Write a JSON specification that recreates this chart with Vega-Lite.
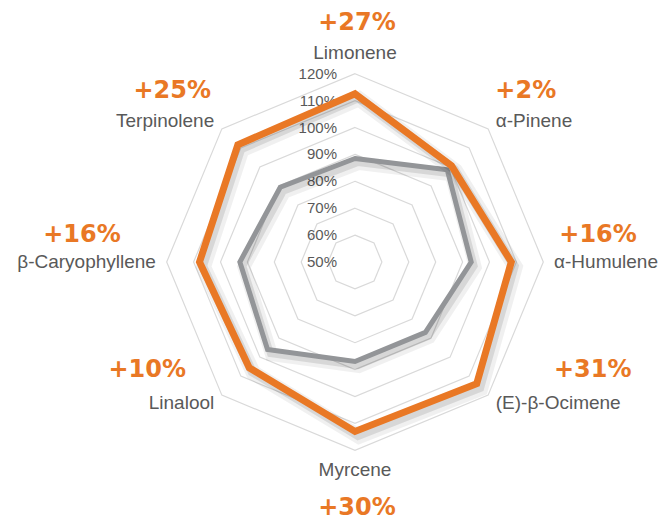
{
  "$schema": "https://vega.github.io/schema/vega-lite/v6.json",
  "width": 663,
  "height": 520,
  "autosize": "none",
  "padding": 0,
  "background": "white",
  "config": {"view": {"stroke": null}, "font": "Liberation Sans"},
  "datasets": {
    "profile": [
      {"terpene": "Limonene", "idx": 0, "series": "Baseline", "value": 88.5},
      {"terpene": "α-Pinene", "idx": 1, "series": "Baseline", "value": 98.5},
      {"terpene": "α-Humulene", "idx": 2, "series": "Baseline", "value": 93.2},
      {"terpene": "(E)-β-Ocimene", "idx": 3, "series": "Baseline", "value": 87},
      {"terpene": "Myrcene", "idx": 4, "series": "Baseline", "value": 87},
      {"terpene": "Linalool", "idx": 5, "series": "Baseline", "value": 96},
      {"terpene": "β-Caryophyllene", "idx": 6, "series": "Baseline", "value": 92.8},
      {"terpene": "Terpinolene", "idx": 7, "series": "Baseline", "value": 89.3},
      {"terpene": "Limonene", "idx": 0, "series": "Enhanced", "value": 112.5},
      {"terpene": "α-Pinene", "idx": 1, "series": "Enhanced", "value": 100.7},
      {"terpene": "α-Humulene", "idx": 2, "series": "Enhanced", "value": 108.1},
      {"terpene": "(E)-β-Ocimene", "idx": 3, "series": "Enhanced", "value": 114},
      {"terpene": "Myrcene", "idx": 4, "series": "Enhanced", "value": 113},
      {"terpene": "Linalool", "idx": 5, "series": "Enhanced", "value": 105.6},
      {"terpene": "β-Caryophyllene", "idx": 6, "series": "Enhanced", "value": 107.8},
      {"terpene": "Terpinolene", "idx": 7, "series": "Enhanced", "value": 111.6}
    ],
    "changes": [
      {"terpene": "Limonene", "idx": 0, "change": "+27%"},
      {"terpene": "α-Pinene", "idx": 1, "change": "+2%"},
      {"terpene": "α-Humulene", "idx": 2, "change": "+16%"},
      {"terpene": "(E)-β-Ocimene", "idx": 3, "change": "+31%"},
      {"terpene": "Myrcene", "idx": 4, "change": "+30%"},
      {"terpene": "Linalool", "idx": 5, "change": "+10%"},
      {"terpene": "β-Caryophyllene", "idx": 6, "change": "+16%"},
      {"terpene": "Terpinolene", "idx": 7, "change": "+25%"}
    ],
    "rings": [
      {"level": 50, "idx": [0, 1, 2, 3, 4, 5, 6, 7]},
      {"level": 60, "idx": [0, 1, 2, 3, 4, 5, 6, 7]},
      {"level": 70, "idx": [0, 1, 2, 3, 4, 5, 6, 7]},
      {"level": 80, "idx": [0, 1, 2, 3, 4, 5, 6, 7]},
      {"level": 90, "idx": [0, 1, 2, 3, 4, 5, 6, 7]},
      {"level": 100, "idx": [0, 1, 2, 3, 4, 5, 6, 7]},
      {"level": 110, "idx": [0, 1, 2, 3, 4, 5, 6, 7]},
      {"level": 120, "idx": [0, 1, 2, 3, 4, 5, 6, 7]}
    ]
  },
  "encoding": {
    "x": {"field": "x", "type": "quantitative", "scale": {"domain": [-131.97, 114.5], "zero": false, "nice": false}, "axis": null},
    "y": {"field": "y", "type": "quantitative", "scale": {"domain": [-95.91, 97.4], "zero": false, "nice": false}, "axis": null}
  },
  "layer": [
    {
      "data": {"name": "rings"},
      "transform": [
        {"filter": "datum.level > 50"},
        {"flatten": ["idx"]},
        {"calculate": "(datum.level - 50) * sin(datum.idx * PI / 4)", "as": "x"},
        {"calculate": "(datum.level - 50) * cos(datum.idx * PI / 4)", "as": "y"}
      ],
      "mark": {"type": "line", "interpolate": "linear-closed", "color": "#D9D9D9", "strokeWidth": 1.2},
      "encoding": {"detail": {"field": "level", "type": "nominal"}, "order": {"field": "idx", "type": "quantitative"}}
    },
    {
      "data": {"name": "rings"},
      "transform": [
        {"calculate": "0", "as": "x"},
        {"calculate": "datum.level - 50", "as": "y"},
        {"calculate": "datum.level + '%'", "as": "label"}
      ],
      "mark": {"type": "text", "align": "right", "baseline": "middle", "dx": -18, "fontSize": 15, "color": "#595959"},
      "encoding": {"text": {"field": "label", "type": "nominal"}}
    },
    {
      "data": {"name": "profile"},
      "transform": [
        {"filter": "datum.series == 'Baseline'"},
        {"calculate": "(datum.value - 50) * sin(datum.idx * PI / 4)", "as": "x"},
        {"calculate": "(datum.value - 50) * cos(datum.idx * PI / 4)", "as": "y"}
      ],
      "mark": {"type": "line", "interpolate": "linear-closed", "color": "#000000", "opacity": 0.06, "strokeWidth": 13, "xOffset": 4, "yOffset": 5, "strokeJoin": "miter"},
      "encoding": {"order": {"field": "idx", "type": "quantitative"}}
    },
    {
      "data": {"name": "profile"},
      "transform": [
        {"filter": "datum.series == 'Baseline'"},
        {"calculate": "(datum.value - 50) * sin(datum.idx * PI / 4)", "as": "x"},
        {"calculate": "(datum.value - 50) * cos(datum.idx * PI / 4)", "as": "y"}
      ],
      "mark": {"type": "line", "interpolate": "linear-closed", "color": "#000000", "opacity": 0.1, "strokeWidth": 7, "xOffset": 3, "yOffset": 4, "strokeJoin": "miter"},
      "encoding": {"order": {"field": "idx", "type": "quantitative"}}
    },
    {
      "data": {"name": "profile"},
      "transform": [
        {"filter": "datum.series == 'Baseline'"},
        {"calculate": "(datum.value - 50) * sin(datum.idx * PI / 4)", "as": "x"},
        {"calculate": "(datum.value - 50) * cos(datum.idx * PI / 4)", "as": "y"}
      ],
      "mark": {"type": "line", "interpolate": "linear-closed", "color": "#939598", "strokeWidth": 5, "strokeJoin": "miter"},
      "encoding": {"order": {"field": "idx", "type": "quantitative"}}
    },
    {
      "data": {"name": "profile"},
      "transform": [
        {"filter": "datum.series == 'Enhanced'"},
        {"calculate": "(datum.value - 50) * sin(datum.idx * PI / 4)", "as": "x"},
        {"calculate": "(datum.value - 50) * cos(datum.idx * PI / 4)", "as": "y"}
      ],
      "mark": {"type": "line", "interpolate": "linear-closed", "color": "#000000", "opacity": 0.06, "strokeWidth": 15, "xOffset": 4, "yOffset": 5, "strokeJoin": "miter"},
      "encoding": {"order": {"field": "idx", "type": "quantitative"}}
    },
    {
      "data": {"name": "profile"},
      "transform": [
        {"filter": "datum.series == 'Enhanced'"},
        {"calculate": "(datum.value - 50) * sin(datum.idx * PI / 4)", "as": "x"},
        {"calculate": "(datum.value - 50) * cos(datum.idx * PI / 4)", "as": "y"}
      ],
      "mark": {"type": "line", "interpolate": "linear-closed", "color": "#000000", "opacity": 0.1, "strokeWidth": 9, "xOffset": 3, "yOffset": 4, "strokeJoin": "miter"},
      "encoding": {"order": {"field": "idx", "type": "quantitative"}}
    },
    {
      "data": {"name": "profile"},
      "transform": [
        {"filter": "datum.series == 'Enhanced'"},
        {"calculate": "(datum.value - 50) * sin(datum.idx * PI / 4)", "as": "x"},
        {"calculate": "(datum.value - 50) * cos(datum.idx * PI / 4)", "as": "y"}
      ],
      "mark": {"type": "line", "interpolate": "linear-closed", "color": "#E97825", "strokeWidth": 7, "strokeJoin": "miter"},
      "encoding": {"order": {"field": "idx", "type": "quantitative"}}
    },
    {
      "data": {"name": "changes"},
      "transform": [
        {"calculate": "74 * sin(datum.idx * PI / 4)", "as": "x"},
        {"calculate": "74 * cos(datum.idx * PI / 4)", "as": "y"}
      ],
      "mark": {
        "type": "text",
        "fontSize": 19,
        "color": "#595959",
        "align": {"expr": "datum.idx % 4 == 0 ? 'center' : (datum.idx < 4 ? 'left' : 'right')"},
        "baseline": {"expr": "datum.idx == 0 ? 'bottom' : (datum.idx == 4 ? 'top' : 'middle')"}
      },
      "encoding": {"text": {"field": "terpene", "type": "nominal"}}
    },
    {
      "data": {"name": "changes"},
      "transform": [
        {"calculate": "74 * sin(datum.idx * PI / 4)", "as": "x"},
        {"calculate": "74 * cos(datum.idx * PI / 4)", "as": "y"}
      ],
      "mark": {
        "type": "text",
        "font": "DejaVu Sans",
        "fontWeight": "bold",
        "fontSize": 24,
        "color": "#E97825",
        "align": "center",
        "baseline": "middle",
        "dx": {"expr": "[2, 30, 44, 97, 2, -67, -74, -42][datum.idx]"},
        "dy": {"expr": "[-40, -30, -27, -33, 47, -33, -27, -30][datum.idx]"}
      },
      "encoding": {"text": {"field": "change", "type": "nominal"}}
    }
  ]
}
